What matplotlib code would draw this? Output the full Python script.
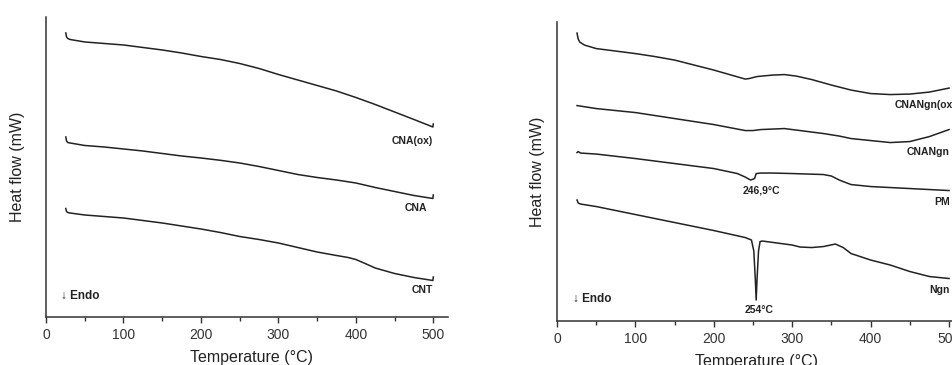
import matplotlib
import matplotlib.pyplot as plt
from matplotlib.ticker import MultipleLocator

plt.switch_backend("agg")
plt.rcParams["font.family"] = ["Liberation Sans", "DejaVu Sans"]

# left panel (DSC of carbon nanotubes), heat flow in arbitrary units
CNAOX_T = [25.5, 26.5, 28, 31, 50, 75, 100, 125, 150, 175, 200, 225, 250, 275, 300, 325, 350,
           375, 400, 425, 450, 475, 499.5, 500]
CNAOX_H = [284, 280, 278.5, 277.5, 275, 273.5, 272, 269.5, 267, 264, 260.5, 257.5, 253.5, 248.5,
           242.5, 237, 231.5, 226, 219.5, 212.5, 205, 197.5, 190, 193]
CNA_T = [25.5, 26.5, 28, 31, 50, 75, 100, 125, 150, 175, 200, 225, 250, 275, 300, 325, 350, 375,
         400, 425, 450, 475, 499.5, 500]
CNA_H = [180, 176, 174.5, 174, 171.5, 170, 168, 166, 163.5, 161, 159, 156.7, 154, 150.5, 146.5,
         142.5, 139.5, 137, 134, 129.5, 125.5, 121.5, 118.5, 122]
CNT_T = [25.5, 26.5, 28, 31, 50, 75, 100, 125, 150, 175, 200, 225, 250, 275, 300, 325, 350, 375,
         390, 400, 412, 425, 450, 475, 499.5, 500]
CNT_H = [108.5, 105.5, 104.5, 104, 102, 100.5, 99, 96.5, 94, 91, 88, 84.5, 80.5, 77.5, 74, 69.5,
         65, 61.5, 59.5, 57.5, 53.5, 49, 43.5, 39.5, 36.5, 40]

# right panel (naringenin samples)
CNANGNOX_T = [25.5, 27, 29, 35, 50, 75, 100, 125, 150, 175, 200, 220, 240, 245, 255, 275, 290,
              305, 325, 350, 375, 400, 425, 450, 475, 500]
CNANGNOX_H = [288, 282, 279, 276, 272.5, 270, 267.5, 264.5, 261, 256, 251, 246.5, 242, 242.5,
              244.5, 246, 246.5, 245, 241.5, 236, 231, 227.5, 226.5, 227, 229, 233]
CNANGN_T = [25.5, 50, 75, 100, 125, 150, 175, 200, 220, 240, 250, 260, 290, 320, 340, 360, 375,
            400, 425, 450, 475, 500]
CNANGN_H = [215.5, 212.5, 210.5, 208.5, 205.5, 202.5, 199.5, 196.5, 193.5, 190.5, 190.5, 191.5,
            192.5, 189.5, 187.5, 185, 182.5, 180.5, 178.5, 179.5, 184.5, 191.5]
PM_T = [25.5, 27, 30, 50, 100, 150, 200, 230, 240, 246.9, 252, 254, 260, 275, 300, 340, 350,
        360, 375, 400, 450, 500]
PM_H = [168.5, 169.5, 168, 167, 162.5, 157.5, 152.5, 147.5, 144, 141, 142.5, 147.5, 148, 148,
        147.5, 146.5, 145, 141, 136.5, 134.5, 132.5, 130.5]
NGN_T = [25.5, 27, 30, 50, 100, 150, 200, 240, 248, 251, 253, 254, 255, 257, 259, 262, 300, 310,
         325, 340, 355, 365, 375, 400, 425, 450, 475, 500]
NGN_H = [121, 118, 117, 114.5, 106.5, 98.5, 90.5, 83.5, 81, 70, 40, 21, 40, 70, 79.5, 80, 76,
         74, 73.5, 74.5, 77, 73.5, 67.5, 61, 56, 49.5, 44.5, 42.5]

XTICKS = [0, 100, 200, 300, 400, 500]
LINE = "#222222"


def style_axes(ax, xmax, ymax, label_dx):
    ax.set_xlim(0, xmax)
    ax.set_ylim(0, ymax)
    for side in ["top", "right"]:
        ax.spines[side].set_visible(False)
    for side in ["left", "bottom"]:
        ax.spines[side].set_linewidth(1.1)
        ax.spines[side].set_color("#333333")
    ax.set_yticks([])
    ax.set_xticks(XTICKS)
    ax.xaxis.set_minor_locator(MultipleLocator(50))
    ax.tick_params(axis="x", which="major", length=4, width=1.0, pad=4,
                   labelsize=10, colors="#333333")
    ax.tick_params(axis="x", which="minor", length=3, width=1.0, colors="#333333")
    ax.set_xlabel("Temperature (°C)", fontsize=11.5, color="#222222")
    ax.set_ylabel("Heat flow (mW)", fontsize=11.5, color="#222222")
    ax.yaxis.set_label_coords(label_dx, 0.5)


fig = plt.figure(figsize=(9.53, 3.65), dpi=100)

ax1 = fig.add_axes([0.0483, 0.1315, 0.4218, 0.822])
style_axes(ax1, 519, 300, -0.052)
ax1.xaxis.set_label_coords(0.512, -0.11)
for t, h in [(CNAOX_T, CNAOX_H), (CNA_T, CNA_H), (CNT_T, CNT_H)]:
    ax1.plot(t, h, color=LINE, linewidth=1.1)
lab = dict(fontsize=7.5, fontweight="bold", color="#222222", ha="right", va="center")
ax1.text(500, 176, "CNA(ox)", **lab)
ax1.text(492, 109, "CNA", **lab)
ax1.text(500, 27, "CNT", **lab)
ax1.text(19, 21, "↓ Endo", fontsize=8.5, fontweight="bold", color="#222222", va="center")

ax2 = fig.add_axes([0.5845, 0.1205, 0.4278, 0.819])
style_axes(ax2, 520, 299, -0.03)
ax2.xaxis.set_label_coords(0.49, -0.11)
for t, h in [(CNANGNOX_T, CNANGNOX_H), (CNANGN_T, CNANGN_H), (PM_T, PM_H), (NGN_T, NGN_H)]:
    ax2.plot(t, h, color=LINE, linewidth=1.1)
ax2.text(430, 216, "CNANgn(ox)", fontsize=7.5, fontweight="bold", color="#222222", va="center")
ax2.text(501, 169, "CNANgn", **lab)
ax2.text(501, 119, "PM", **lab)
ax2.text(501, 31, "Ngn", **lab)
ax2.text(261, 131, "246,9°C", fontsize=7.5, fontweight="bold", color="#222222", ha="center", va="center")
ax2.text(258, 11, "254°C", fontsize=7.5, fontweight="bold", color="#222222", ha="center", va="center")
ax2.text(20, 22.5, "↓ Endo", fontsize=8.5, fontweight="bold", color="#222222", va="center")

fig.savefig("out.png", dpi=100)
